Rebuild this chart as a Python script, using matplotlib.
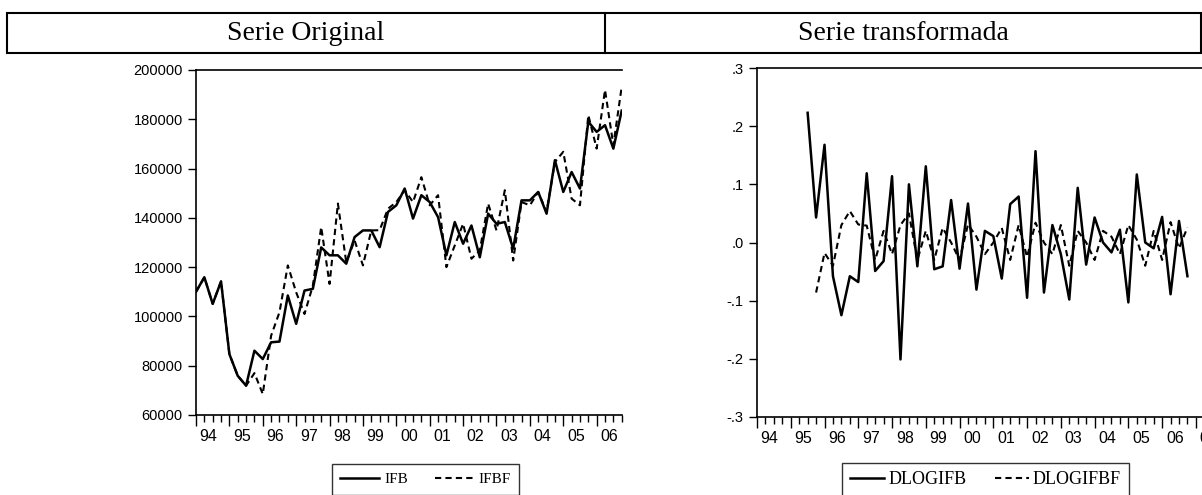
import numpy as np
import matplotlib.pyplot as plt
from matplotlib.ticker import FixedLocator, FuncFormatter
from matplotlib.lines import Line2D
from matplotlib.patches import Rectangle

# quarterly data, 1994Q1 .. 2006Q4
years = [str(y)[-2:] for y in range(1994, 2008)]

ifb = [110000, 115900, 105100, 114200, 84700, 75900, 71900, 86100,
       82700, 89500, 89800, 108500, 97000, 110500, 111200, 128000,
       124800, 124800, 121400, 132200, 134900, 134900, 128100, 142400,
       145100, 151900, 139700, 149200, 146400, 140300, 124800, 138300,
       129500, 136900, 124000, 141700, 137600, 138300, 127500, 147100,
       147100, 150500, 141700, 163400, 150500, 158600, 151900, 179000,
       174900, 177600, 168100, 183500]

ifbf = [110000, 115900, 105100, 114200, 84700, 75900, 71900, 77000,
        68500, 92200, 101700, 120700, 109800, 101000, 112500, 136300,
        113200, 145800, 122000, 130800, 120700, 134900, 135000, 143700,
        146400, 151200, 146400, 156500, 145100, 149200, 120000, 128800,
        137600, 123400, 126800, 145800, 134900, 151200, 122700, 146400,
        145100, 150500, 142400, 162700, 166800, 147800, 145100, 181700,
        168100, 191900, 169500, 193200]

# transformed series (start 1995Q3 / 1995Q4)
dlogifb = [0.223, 0.043, 0.168, -0.058, -0.125, -0.058, -0.068, 0.119,
           -0.049, -0.032, 0.114, -0.201, 0.100, -0.041, 0.131, -0.046,
           -0.041, 0.073, -0.045, 0.067, -0.081, 0.020, 0.011, -0.062,
           0.066, 0.079, -0.095, 0.157, -0.086, 0.030, -0.020, -0.098,
           0.094, -0.038, 0.043, 0.000, -0.017, 0.022, -0.103, 0.117,
           0.000, -0.010, 0.044, -0.089, 0.037, -0.058]

dlogifbf = [-0.086, -0.018, -0.040, 0.030, 0.054, 0.031, 0.029, -0.030,
            0.020, -0.020, 0.030, 0.050, -0.030, 0.020, -0.030, 0.025,
            0.000, -0.030, 0.031, 0.010, -0.020, 0.000, 0.025, -0.030,
            0.030, -0.025, 0.034, 0.000, -0.020, 0.030, -0.040, 0.020,
            0.000, -0.030, 0.020, 0.010, -0.020, 0.030, 0.005, -0.040,
            0.020, -0.030, 0.035, -0.010, 0.026]

plt.rcParams['font.family'] = ['Liberation Sans', 'DejaVu Sans']

fig = plt.figure(figsize=(12.02, 4.95), dpi=100)
W, H = 1202, 495
DASH = (0, (3, 2))


def box(x0, y0, x1, y1):
    # pixel box -> figure coords
    return [x0 / W, 1 - y1 / H, (x1 - x0) / W, (y1 - y0) / H]


def style(ax, xmax):
    ax.spines['right'].set_visible(False)
    for s in ['left', 'bottom', 'top']:
        ax.spines[s].set_linewidth(1.2)
    ax.set_xlim(0, xmax)
    ax.xaxis.set_major_locator(FixedLocator(np.arange(0, xmax + 1, 4)))
    ax.xaxis.set_minor_locator(FixedLocator(np.arange(0, xmax + 1, 1)))
    ax.set_xticklabels([])
    # year labels centred between year ticks
    for k, yy in enumerate(years):
        xc = 4 * k + 1.5
        if xc <= xmax + 2:
            ax.text(xc, -0.04, yy, transform=ax.get_xaxis_transform(),
                    ha='center', va='top', fontsize=11.5, clip_on=False)
    ax.tick_params(axis='x', which='major', direction='out', length=8, width=1)
    ax.tick_params(axis='x', which='minor', direction='out', length=5, width=1)
    ax.tick_params(axis='y', direction='out', length=6, width=1, labelsize=10.5)
    ax.tick_params(top=False, right=False)


# left panel
ax1 = fig.add_axes(box(196, 70, 621.7, 415))
x1 = np.arange(len(ifb))
ax1.plot(x1, ifb, color='black', lw=1.8)
ax1.plot(x1, ifbf, color='black', lw=1.5, ls=DASH)
ax1.set_ylim(60000, 200000)
ax1.set_yticks(np.arange(60000, 200001, 20000))
style(ax1, len(ifb) - 1)

# right panel (runs past the right edge of the page)
ax2 = fig.add_axes(box(757, 68, 757 + 8.44 * 55.5, 417))
ax2.plot(np.arange(6, 6 + len(dlogifb)), dlogifb, color='black', lw=1.8)
ax2.plot(np.arange(7, 7 + len(dlogifbf)), dlogifbf, color='black', lw=1.5,
         ls=DASH)
ax2.set_ylim(-0.3, 0.3)
ax2.set_yticks([-0.3, -0.2, -0.1, 0.0, 0.1, 0.2, 0.3])
ax2.yaxis.set_major_formatter(FuncFormatter(
    lambda v, p: ('-' if v < -1e-9 else '') + ('%.1f' % abs(v))[1:]))
style(ax2, 55.5)

# legends
handles = [Line2D([], [], color='black', lw=1.8),
           Line2D([], [], color='black', lw=1.5, ls=DASH)]
lg1 = fig.legend(handles, ['IFB', 'IFBF'], loc='upper left',
                 bbox_to_anchor=(332 / W, 1 - 464 / H), ncol=2, frameon=True,
                 fancybox=False, edgecolor='black', handlelength=2.5,
                 columnspacing=1.8, handletextpad=0.35, borderpad=0.55,
                 borderaxespad=0, prop={'family': 'Liberation Serif', 'size': 11})
lg1.get_frame().set_linewidth(1.0)
lg2 = fig.legend(handles, ['DLOGIFB', 'DLOGIFBF'], loc='upper left',
                 bbox_to_anchor=(842 / W, 1 - 463 / H), ncol=2, frameon=True,
                 fancybox=False, edgecolor='black', handlelength=1.9,
                 columnspacing=1.6, handletextpad=0.2, borderpad=0.45,
                 borderaxespad=0, prop={'family': 'Liberation Serif', 'size': 13})
lg2.get_frame().set_linewidth(1.0)

# header row of the table
fig.add_artist(Rectangle((7 / W, 1 - 53 / H), (1201 - 7) / W, 40 / H,
                         transform=fig.transFigure, fill=False,
                         edgecolor='black', lw=1.5))
fig.add_artist(Line2D([605 / W, 605 / W], [1 - 53 / H, 1 - 13 / H],
                      transform=fig.transFigure, color='black', lw=1.5))
fig.text(306 / W, 1 - 33 / H, 'Serie Original', ha='center', va='center',
         fontsize=20, family='Liberation Serif')
fig.text(903 / W, 1 - 33 / H, 'Serie transformada', ha='center', va='center',
         fontsize=20, family='Liberation Serif')

fig.savefig('out.png', dpi=100)
